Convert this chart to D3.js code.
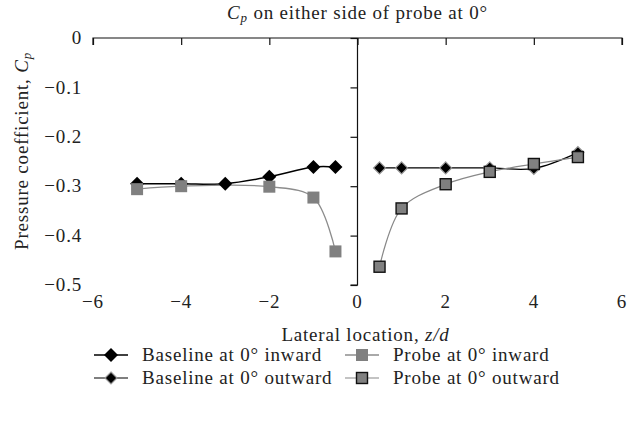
<!DOCTYPE html>
<html lang="en">
<head>
    <meta charset="UTF-8">
    <script src="https://d3js.org/d3.v7.min.js"></script>
    <style>
        body { margin: 0; background: #fff; }
    </style>
</head>
<body>
<div id="chart"></div>
<script>
    // Cp readings left (inward) and right (outward) of the probe
    var inwardZ = [-5, -4, -3, -2, -1, -0.5];
    var outwardZ = [0.5, 1, 2, 3, 4, 5];
    var baselineInward = [-0.295, -0.295, -0.295, -0.281, -0.261, -0.261];
    var probeInward = [-0.306, -0.300, null, -0.301, -0.323, -0.432];
    var baselineOutward = [-0.263, -0.263, -0.263, -0.263, -0.264, -0.232];
    var probeOutward = [-0.463, -0.345, -0.296, -0.271, -0.255, -0.241];
    var xTicks = [-6, -4, -2, 0, 2, 4, 6];
    var yTicks = [0, -0.1, -0.2, -0.3, -0.4, -0.5];

    var width = 627, height = 427;
    var serif = "'Liberation Serif', 'Times New Roman', serif";
    var fontSize = 19, subSize = 13;

    var svg = d3.select("#chart").append("svg")
        .attr("width", width)
        .attr("height", height)
        .style("font-family", serif);

    var x = d3.scaleLinear().domain([-6, 6]).range([93, 622]);
    var y = d3.scaleLinear().domain([-0.5, 0]).range([285, 38]);

    function fmt(v) {
        return v === 0 ? "0" : "\u2212" + Math.abs(v).toFixed(1);
    }

    function label(sel) {
        return sel.style("font-family", serif)
            .style("font-size", fontSize + "px")
            .style("letter-spacing", "0.8px")
            .attr("fill", "#222");
    }

    // horizontal axis runs along Cp = 0 with ticks hanging down
    var xAxis = svg.append("g")
        .attr("transform", "translate(0," + y(0) + ")")
        .call(d3.axisBottom(x).tickValues(xTicks).tickSize(7).tickFormat(""));
    xAxis.select(".domain").attr("d", "M" + x(-6) + ",7V0H" + x(6) + "V7");

    // vertical axis at z/d = 0 with ticks to the left
    var yAxis = svg.append("g")
        .attr("transform", "translate(" + x(0) + ",0)")
        .call(d3.axisLeft(y).tickValues(yTicks).tickSize(7).tickFormat(""));
    yAxis.select(".domain").attr("d", "M-7," + y(-0.5) + "H0V" + y(0));
    svg.selectAll(".domain, .tick line").attr("stroke", "#111").attr("stroke-width", 1.2);

    // tick labels sit outside the plot area
    label(svg.append("g").selectAll("text")
        .data(yTicks).join("text")
        .attr("x", 82)
        .attr("y", function(d) { return y(d); })
        .attr("dy", "0.33em")
        .attr("text-anchor", "end"))
        .text(fmt);

    label(svg.append("g").selectAll("text")
        .data(xTicks).join("text")
        .attr("x", function(d) { return x(d); })
        .attr("y", 302)
        .attr("dy", "0.33em")
        .attr("text-anchor", "middle"))
        .text(function(d) { return d < 0 ? "\u2212" + Math.abs(d) : d; });

    // titles
    var title = label(svg.append("text")
        .attr("x", x(0))
        .attr("y", 19)
        .attr("text-anchor", "middle"));
    title.append("tspan").style("font-style", "italic").text("C");
    title.append("tspan").style("font-style", "italic").style("font-size", subSize + "px").attr("dy", 3).text("p");
    title.append("tspan").attr("dy", -3).text(" on either side of probe at 0\u00b0");

    var xTitle = label(svg.append("text")
        .attr("x", x(0) + 8)
        .attr("y", 341)
        .attr("text-anchor", "middle"));
    xTitle.append("tspan").text("Lateral location, ");
    xTitle.append("tspan").style("font-style", "italic").text("z/d");

    var yTitle = label(svg.append("text")
        .attr("transform", "translate(28,151) rotate(-90)")
        .attr("text-anchor", "middle"));
    yTitle.append("tspan").text("Pressure coefficient, ");
    yTitle.append("tspan").style("font-style", "italic").text("C");
    yTitle.append("tspan").style("font-style", "italic").style("font-size", subSize + "px").attr("dy", 3).text("p");

    var series = [
        {name: "Baseline at 0\u00b0 inward", z: inwardZ, v: baselineInward, line: "#000", lw: 1.5,
         marker: "diamond", fill: "#000", stroke: "none", size: 7},
        {name: "Probe at 0\u00b0 inward", z: inwardZ, v: probeInward, line: "#8c8c8c", lw: 1.3,
         marker: "square", fill: "#808080", stroke: "none", size: 6},
        {name: "Baseline at 0\u00b0 outward", z: outwardZ, v: baselineOutward, line: "#000", lw: 1.2,
         marker: "diamond", fill: "#000", stroke: "#999", size: 6},
        {name: "Probe at 0\u00b0 outward", z: outwardZ, v: probeOutward, line: "#888", lw: 1.2,
         marker: "square", fill: "#808080", stroke: "#111", size: 5.5}
    ];

    var line = d3.line()
        .x(function(d) { return x(d[0]); })
        .y(function(d) { return y(d[1]); })
        .curve(d3.curveCatmullRom.alpha(0.5));

    function drawMarker(g, s, cx, cy) {
        var r = s.size;
        if (s.marker === "diamond") {
            g.append("path")
                .attr("d", "M" + cx + "," + (cy - r) + "L" + (cx + r) + "," + cy + "L" + cx + "," + (cy + r) + "L" + (cx - r) + "," + cy + "Z")
                .attr("fill", s.fill)
                .attr("stroke", s.stroke)
                .attr("stroke-width", 1.2);
        } else {
            g.append("rect")
                .attr("x", cx - r).attr("y", cy - r)
                .attr("width", 2 * r).attr("height", 2 * r)
                .attr("fill", s.fill)
                .attr("stroke", s.stroke)
                .attr("stroke-width", 1.4);
        }
    }

    // lines first, then markers on top
    series.forEach(function(s) {
        var pts = s.z.map(function(z, i) { return [z, s.v[i]]; })
            .filter(function(d) { return d[1] !== null; });
        svg.append("path")
            .datum(pts)
            .attr("d", line)
            .attr("fill", "none")
            .attr("stroke", s.line)
            .attr("stroke-width", s.lw);
    });
    series.forEach(function(s) {
        var g = svg.append("g");
        s.z.forEach(function(z, i) {
            if (s.v[i] !== null) drawMarker(g, s, x(z), y(s.v[i]));
        });
    });

    // legend, two columns
    var legendPos = [[94, 355], [345, 355], [94, 378], [345, 378]];
    series.forEach(function(s, i) {
        var px = legendPos[i][0], py = legendPos[i][1];
        var g = svg.append("g");
        g.append("line")
            .attr("x1", px).attr("x2", px + 34)
            .attr("y1", py).attr("y2", py)
            .attr("stroke", s.line)
            .attr("stroke-width", s.lw);
        drawMarker(g, s, px + 17, py);
        label(g.append("text")
            .attr("x", px + 48)
            .attr("y", py)
            .attr("dy", "0.33em"))
            .text(s.name);
    });
</script>
</body>
</html>
